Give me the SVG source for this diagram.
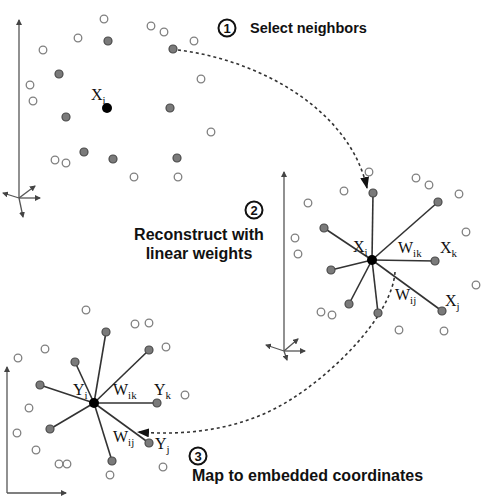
<svg xmlns="http://www.w3.org/2000/svg" width="490" height="502" viewBox="0 0 490 502">
<style>
.o{fill:#fff;stroke:#808080;stroke-width:1.3}
.d{fill:#7a7a7a;stroke:#4a4a4a;stroke-width:1.2}
.b{fill:#000}
.ax{stroke:#555;stroke-width:1.3;fill:none}
.sp{stroke:#333;stroke-width:1.6}
.dash{fill:none;stroke:#333;stroke-width:1.6;stroke-dasharray:3 3}
.lab{font-family:"Liberation Serif",serif;font-size:16px;fill:#111}
.sub{font-size:11px}
.t{font-family:"Liberation Sans",Arial,sans-serif;font-weight:bold;fill:#111}
.num{fill:#fff;stroke:#111;stroke-width:2}
</style>
<defs>
<marker id="ah" markerWidth="6" markerHeight="6" refX="5" refY="3" orient="auto" markerUnits="userSpaceOnUse"><path d="M0,0 L6,3 L0,6 Z" fill="#444"/></marker>
<marker id="big" markerWidth="12" markerHeight="9" refX="11" refY="4.5" orient="auto" markerUnits="userSpaceOnUse"><path d="M0,0 L12,4.5 L0,9 Z" fill="#111"/></marker>
</defs>

<g id="axes">
<line class="ax" x1="19" y1="198" x2="19" y2="20" marker-end="url(#ah)"/>
<line class="ax" x1="19" y1="198" x2="3" y2="193" marker-end="url(#ah)"/>
<line class="ax" x1="19" y1="198" x2="40" y2="198" marker-end="url(#ah)"/>
<line class="ax" x1="19" y1="198" x2="35" y2="186" marker-end="url(#ah)"/>
<line class="ax" x1="19" y1="198" x2="23" y2="217" marker-end="url(#ah)"/>
<line class="ax" x1="284" y1="351" x2="284" y2="172" marker-end="url(#ah)"/>
<line class="ax" x1="284" y1="351" x2="266" y2="345" marker-end="url(#ah)"/>
<line class="ax" x1="284" y1="351" x2="305" y2="351" marker-end="url(#ah)"/>
<line class="ax" x1="284" y1="351" x2="298" y2="339" marker-end="url(#ah)"/>
<line class="ax" x1="284" y1="351" x2="287" y2="360" marker-end="url(#ah)"/>
<line class="ax" x1="7" y1="493" x2="7" y2="367" marker-end="url(#ah)"/>
<line class="ax" x1="7" y1="493" x2="66" y2="493" marker-end="url(#ah)"/>
</g>

<g id="connectors">
<g id="star2">
<line class="sp" x1="372" y1="260" x2="373" y2="193"/>
<line class="sp" x1="372" y1="260" x2="438" y2="202"/>
<line class="sp" x1="372" y1="260" x2="324" y2="228"/>
<line class="sp" x1="372" y1="260" x2="331" y2="270"/>
<line class="sp" x1="372" y1="260" x2="435" y2="261"/>
<line class="sp" x1="372" y1="260" x2="349" y2="304"/>
<line class="sp" x1="372" y1="260" x2="378" y2="313"/>
<line class="sp" x1="372" y1="260" x2="442" y2="311"/>
</g>
<g id="star3">
<line class="sp" x1="94" y1="403" x2="106" y2="332"/>
<line class="sp" x1="94" y1="403" x2="149" y2="350"/>
<line class="sp" x1="94" y1="403" x2="75" y2="362"/>
<line class="sp" x1="94" y1="403" x2="40" y2="385"/>
<line class="sp" x1="94" y1="403" x2="157" y2="403"/>
<line class="sp" x1="94" y1="403" x2="50" y2="429"/>
<line class="sp" x1="94" y1="403" x2="149" y2="443"/>
<line class="sp" x1="94" y1="403" x2="112" y2="461"/>
</g>
<path id="arrow1" class="dash" d="M178,50 C260,60 350,110 367,188" marker-end="url(#big)"/>
<path id="arrow2" class="dash" d="M395,272 C392,315 335,372 290,400 C244,429 190,436 138,432" marker-end="url(#big)"/>
</g>

<g id="panel1">
<circle class="o" cx="104" cy="19" r="3.8"/>
<circle class="o" cx="151" cy="26" r="3.8"/>
<circle class="o" cx="164" cy="32" r="3.8"/>
<circle class="o" cx="194" cy="41" r="3.8"/>
<circle class="o" cx="78" cy="38" r="3.8"/>
<circle class="o" cx="43" cy="50" r="3.8"/>
<circle class="o" cx="30" cy="85" r="3.8"/>
<circle class="o" cx="33" cy="101" r="3.8"/>
<circle class="o" cx="201" cy="79" r="3.8"/>
<circle class="o" cx="211" cy="132" r="3.8"/>
<circle class="o" cx="55" cy="160" r="3.8"/>
<circle class="o" cx="66" cy="163" r="3.8"/>
<circle class="o" cx="134" cy="177" r="3.8"/>
<circle class="o" cx="178" cy="177" r="3.8"/>
<circle class="d" cx="108" cy="41" r="4"/>
<circle class="d" cx="173" cy="49" r="4"/>
<circle class="d" cx="59" cy="74" r="4"/>
<circle class="d" cx="66" cy="117" r="4"/>
<circle class="d" cx="170" cy="108" r="4"/>
<circle class="d" cx="84" cy="152" r="4"/>
<circle class="d" cx="113" cy="159" r="4"/>
<circle class="d" cx="177" cy="158" r="4"/>
<circle class="b" cx="107" cy="108" r="5"/>
<text class="lab" x="91" y="100">X<tspan class="sub" dy="4">i</tspan></text>
</g>

<g id="panel2">
<circle class="o" cx="369" cy="172" r="3.8"/>
<circle class="o" cx="416" cy="178" r="3.8"/>
<circle class="o" cx="429" cy="185" r="3.8"/>
<circle class="o" cx="459" cy="194" r="3.8"/>
<circle class="o" cx="344" cy="191" r="3.8"/>
<circle class="o" cx="308" cy="203" r="3.8"/>
<circle class="o" cx="466" cy="232" r="3.8"/>
<circle class="o" cx="295" cy="238" r="3.8"/>
<circle class="o" cx="298" cy="254" r="3.8"/>
<circle class="o" cx="476" cy="285" r="3.8"/>
<circle class="o" cx="321" cy="312" r="3.8"/>
<circle class="o" cx="332" cy="315" r="3.8"/>
<circle class="o" cx="399" cy="330" r="3.8"/>
<circle class="o" cx="444" cy="331" r="3.8"/>
<circle class="d" cx="373" cy="193" r="4"/>
<circle class="d" cx="438" cy="202" r="4"/>
<circle class="d" cx="324" cy="228" r="4"/>
<circle class="d" cx="331" cy="270" r="4"/>
<circle class="d" cx="435" cy="261" r="4"/>
<circle class="d" cx="349" cy="304" r="4"/>
<circle class="d" cx="378" cy="313" r="4"/>
<circle class="d" cx="442" cy="311" r="4"/>
<circle class="b" cx="372" cy="260" r="5"/>
<text class="lab" x="353" y="252">X<tspan class="sub" dy="4">i</tspan></text>
<text class="lab" x="398" y="253">W<tspan class="sub" dy="4">ik</tspan></text>
<text class="lab" x="440" y="253">X<tspan class="sub" dy="4">k</tspan></text>
<text class="lab" x="395" y="300">W<tspan class="sub" dy="4">ij</tspan></text>
<text class="lab" x="445" y="306">X<tspan class="sub" dy="4">j</tspan></text>
</g>

<g id="panel3">
<circle class="o" cx="86" cy="310" r="3.8"/>
<circle class="o" cx="135" cy="324" r="3.8"/>
<circle class="o" cx="149" cy="323" r="3.8"/>
<circle class="o" cx="166" cy="347" r="3.8"/>
<circle class="o" cx="45" cy="349" r="3.8"/>
<circle class="o" cx="18" cy="358" r="3.8"/>
<circle class="o" cx="185" cy="395" r="3.8"/>
<circle class="o" cx="29" cy="408" r="3.8"/>
<circle class="o" cx="17" cy="433" r="3.8"/>
<circle class="o" cx="36" cy="450" r="3.8"/>
<circle class="o" cx="59" cy="464" r="3.8"/>
<circle class="o" cx="67" cy="464" r="3.8"/>
<circle class="o" cx="163" cy="467" r="3.8"/>
<circle class="o" cx="110" cy="475" r="3.8"/>
<circle class="d" cx="106" cy="332" r="4"/>
<circle class="d" cx="149" cy="350" r="4"/>
<circle class="d" cx="75" cy="362" r="4"/>
<circle class="d" cx="40" cy="385" r="4"/>
<circle class="d" cx="157" cy="403" r="4"/>
<circle class="d" cx="50" cy="429" r="4"/>
<circle class="d" cx="149" cy="443" r="4"/>
<circle class="d" cx="112" cy="461" r="4"/>
<circle class="b" cx="94" cy="403" r="5"/>
<text class="lab" x="73" y="395">Y<tspan class="sub" dy="4">i</tspan></text>
<text class="lab" x="113" y="395">W<tspan class="sub" dy="4">ik</tspan></text>
<text class="lab" x="154" y="395">Y<tspan class="sub" dy="4">k</tspan></text>
<text class="lab" x="113" y="442">W<tspan class="sub" dy="4">ij</tspan></text>
<text class="lab" x="155" y="449">Y<tspan class="sub" dy="4">j</tspan></text>
</g>

<g id="step1">
<circle class="num" cx="227" cy="28" r="8.5"/>
<text class="t" x="227" y="32.5" font-size="13" text-anchor="middle">1</text>
<text class="t" x="250" y="33" font-size="14.5">Select neighbors</text>
</g>
<g id="step2">
<circle class="num" cx="254" cy="210" r="8.5"/>
<text class="t" x="254" y="214.5" font-size="13" text-anchor="middle">2</text>
<text class="t" x="199" y="240" font-size="16" text-anchor="middle">Reconstruct with</text>
<text class="t" x="199" y="259" font-size="16" text-anchor="middle">linear weights</text>
</g>
<g id="step3">
<circle class="num" cx="198" cy="456" r="8.5"/>
<text class="t" x="198" y="460.5" font-size="13" text-anchor="middle">3</text>
<text class="t" x="192" y="481" font-size="16">Map to embedded coordinates</text>
</g>
</svg>
